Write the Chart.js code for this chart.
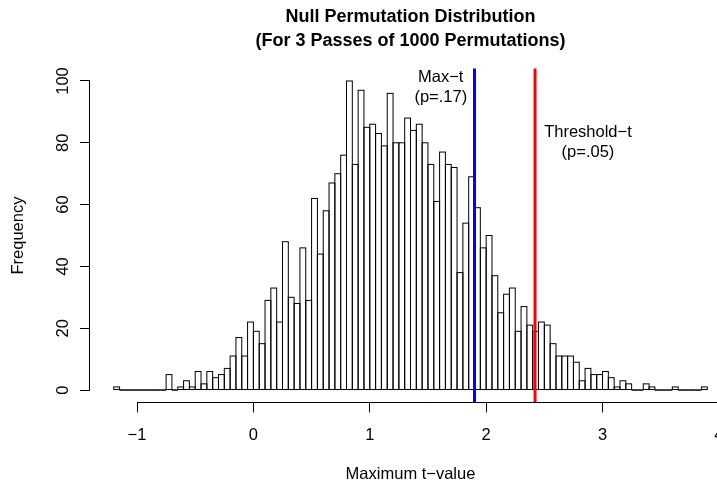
<!DOCTYPE html>
<html><head><meta charset="utf-8">
<script src="https://cdn.jsdelivr.net/npm/chart.js@4.4.0/dist/chart.umd.min.js"></script>
<style>html,body{margin:0;padding:0;overflow:hidden;background:#fff;width:717px;height:484px}canvas{display:block}</style>
</head><body>
<canvas id="c" width="731" height="484" style="width:731px;height:484px"></canvas>
<script>
// ---- data ----
const binStart = -1.2;
const binWidth = 0.05;
const counts = [
  1, 0, 0, 0, 0, 0, 0, 0, 0, 5,
  0, 1, 3, 1, 6, 2, 6, 4, 5, 7,
  11, 17, 11, 22, 19, 15, 29, 33, 22, 48,
  30, 28, 46, 29, 62, 44, 58, 67, 70, 76,
  100, 73, 97, 85, 86, 83, 79, 96, 80, 80,
  88, 84, 86, 80, 73, 61, 77, 73, 72, 38,
  54, 69, 59, 46, 50, 37, 25, 31, 33, 19,
  27, 21, 19, 22, 21, 15, 11, 11, 11, 9,
  3, 7, 5, 5, 6, 4, 1, 3, 2, 0,
  0, 2, 1, 0, 0, 0, 1, 0, 0, 0,
  0, 1
];
const xTickValues = [-1, 0, 1, 2, 3, 4];
const xTickLabels = ["\u22121", "0", "1", "2", "3", "4"];
const yTickValues = [0, 20, 40, 60, 80, 100];
const yTickLabels = ["0", "20", "40", "60", "80", "100"];
const cutLines = [1.90, 2.42];
const cutColors = ["#0000FF", "#FF0000"];
const noteX = [1.61, 2.875];
const noteY = [98, 80];
const noteText = [["Max\u2212t", "(p=.17)"], ["Threshold\u2212t", "(p=.05)"]];
const titleLines = ["Null Permutation Distribution", "(For 3 Passes of 1000 Permutations)"];
const xTitle = "Maximum t\u2212value";
const yTitle = "Frequency";

// ---- chart ----
const FONT = "'Liberation Sans', Arial, Helvetica, sans-serif";
const FS = 16.5;
Chart.defaults.font.family = FONT;
Chart.defaults.color = "#000";

const points = counts.map((c, i) => ({ x: binStart + binWidth * (i + 0.5), y: c }));

const histPlugin = {
  id: 'histExtras',
  afterDatasetsDraw(chart) {
    const ctx = chart.ctx;
    const ca = chart.chartArea;
    const xs = chart.scales.x, ys = chart.scales.y;
    const meta = chart.getDatasetMeta(0);
    ctx.save();
    ctx.strokeStyle = '#000';
    ctx.lineWidth = 1;
    meta.data.forEach(bar => {
      const p = bar.getProps(['x', 'y', 'base', 'width'], true);
      const l = p.x - p.width / 2;
      const top = Math.min(p.y, p.base);
      ctx.strokeRect(l, top, p.width, Math.abs(p.base - p.y));
    });
    cutLines.forEach((v, i) => {
      const px = xs.getPixelForValue(v);
      ctx.strokeStyle = cutColors[i];
      ctx.lineWidth = 3;
      ctx.beginPath();
      ctx.moveTo(px, ca.top);
      ctx.lineTo(px, ca.bottom);
      ctx.stroke();
    });
    ctx.fillStyle = '#000';
    ctx.font = FS + 'px ' + FONT;
    ctx.textAlign = 'center';
    ctx.textBaseline = 'middle';
    const lh = FS * 1.2;
    noteText.forEach((lines, i) => {
      const cx = xs.getPixelForValue(noteX[i]);
      const cy = ys.getPixelForValue(noteY[i]);
      lines.forEach((t, k) => {
        ctx.fillText(t, cx, cy + (k - (lines.length - 1) / 2) * lh);
      });
    });
    ctx.restore();
  },
  afterDraw(chart) {
    const ctx = chart.ctx;
    const ca = chart.chartArea;
    const xs = chart.scales.x, ys = chart.scales.y;
    ctx.save();
    ctx.strokeStyle = '#000';
    ctx.lineWidth = 1;
    ctx.beginPath();
    const yb = Math.round(ca.bottom) + 0.5;
    ctx.moveTo(xs.getPixelForValue(xTickValues[0]), yb);
    ctx.lineTo(xs.getPixelForValue(xTickValues[xTickValues.length - 1]), yb);
    const xl = Math.round(ca.left) - 0.5;
    ctx.moveTo(xl, ys.getPixelForValue(yTickValues[0]));
    ctx.lineTo(xl, ys.getPixelForValue(yTickValues[yTickValues.length - 1]));
    ctx.stroke();
    ctx.restore();
  }
};

new Chart(document.getElementById('c'), {
  type: 'bar',
  data: {
    datasets: [{
      data: points,
      backgroundColor: '#FFFFFF',
      borderWidth: 0,
      barPercentage: 1,
      categoryPercentage: 1
    }]
  },
  options: {
    responsive: false,
    animation: false,
    devicePixelRatio: 1,
    layout: { padding: 0 },
    plugins: {
      legend: { display: false },
      tooltip: { enabled: false },
      title: {
        display: true,
        fullSize: false,
        text: titleLines,
        color: '#000',
        font: { family: FONT, size: 18, weight: 'bold', lineHeight: '23.76px' },
        padding: { top: 5.1, bottom: 16 }
      }
    },
    scales: {
      x: {
        type: 'linear',
        min: -1.404,
        max: 4.104,
        offset: false,
        afterBuildTicks: s => { s.ticks = xTickValues.map(v => ({ value: v })); },
        afterFit: s => { s.height = 81.6; },
        ticks: {
          autoSkip: false, maxRotation: 0, minRotation: 0,
          padding: 0,
          font: { size: FS, lineHeight: '45.2px' },
          color: '#000',
          callback: v => xTickLabels[xTickValues.indexOf(v)]
        },
        grid: { display: true, offset: false, drawOnChartArea: false, drawTicks: true, tickLength: 10, color: '#000', lineWidth: 1 },
        border: { display: false },
        title: { display: true, text: xTitle, color: '#000', font: { size: FS, lineHeight: 1.15 }, padding: 0 }
      },
      y: {
        type: 'linear',
        min: -4,
        max: 104,
        afterBuildTicks: s => { s.ticks = yTickValues.map(v => ({ value: v })); },
        afterFit: s => { s.width = 90; },
        ticks: {
          autoSkip: false, minRotation: 90, maxRotation: 90,
          crossAlign: 'center',
          padding: 3,
          font: { size: FS, lineHeight: 1.2 },
          color: '#000',
          callback: v => yTickLabels[yTickValues.indexOf(v)]
        },
        grid: { display: true, offset: false, drawOnChartArea: false, drawTicks: true, tickLength: 10, color: '#000', lineWidth: 1 },
        border: { display: false },
        title: { display: true, text: yTitle, color: '#000', font: { size: FS, lineHeight: 1.2 }, padding: { top: 8.6, bottom: 0 } }
      }
    }
  },
  plugins: [histPlugin]
});
</script>
</body></html>
